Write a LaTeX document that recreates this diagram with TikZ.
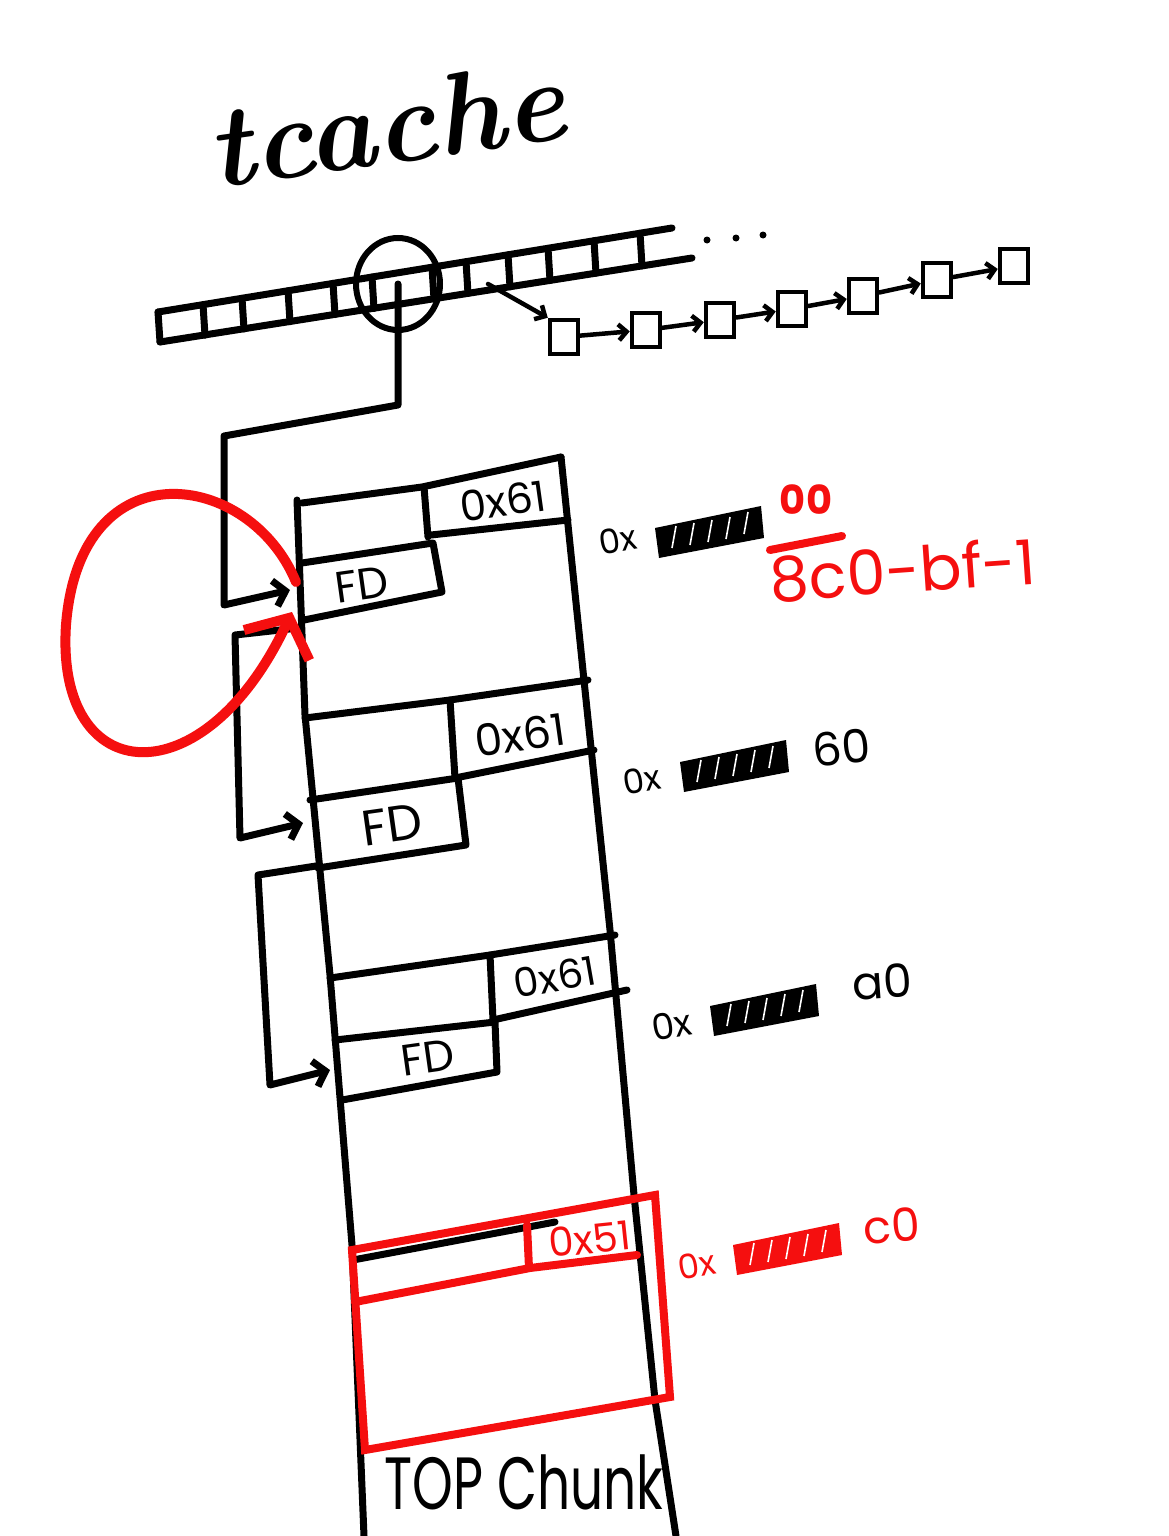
\documentclass[tikz,border=0pt]{standalone}
\usepackage{fontspec}
\usepackage{xcolor}
\usetikzlibrary{shapes.geometric, arrows.meta, positioning}
\newfontfamily\handfont{Poppins}
\definecolor{inkred}{RGB}{245,15,15}

\begin{document}
\begin{tikzpicture}[
  x=1pt, y=-1pt,
  ink/.style={line width=7pt, line cap=round, line join=round},
  redink/.style={ink, draw=inkred, line width=8pt},
  hand/.style={font=\handfont\fontsize{#1}{#1}\selectfont, inner sep=0pt},
  slotbox/.style={draw, line width=4.5pt, minimum width=28pt, minimum height=34pt, inner sep=0pt},
  link/.style={ink, -{Straight Barb[length=11pt,width=26pt]}},
  hop/.style={ink, line width=4.5pt, -{Straight Barb[length=8pt,width=16pt]}}
]
  \useasboundingbox[fill=white] (0,0) rectangle (1168,1536);

  % title
  \node[font=\bfseries\itshape\fontsize{116}{116}\selectfont, inner sep=0pt, rotate=8] (title) at (386,124) {tcache};

  % tcache bins
  \draw[ink] (158,312) -- (672,228);
  \draw[ink] (160,342) -- (692,258);
  \draw[ink] (158,312) -- (160,342);
  \foreach \x in {203,242,288,333,372,432,466,508,548,594,640}
    \draw[ink] (\x,{312-0.1634*(\x-158)}) -- (\x+2,{342-0.1585*(\x-160)});
  \node[draw, ellipse, line width=6pt, minimum width=84pt, minimum height=92pt] (slot) at (398,284) {};
  \foreach \x/\y in {707/240,736/238,763/235}
    \fill (\x,\y) circle (3.5pt);

  % other bin list
  \coordinate (tap) at (488,284);
  \node[slotbox] (s1) at (564,337) {};
  \node[slotbox] (s2) at (646,330) {};
  \node[slotbox] (s3) at (720,320) {};
  \node[slotbox] (s4) at (792,309) {};
  \node[slotbox] (s5) at (863,296) {};
  \node[slotbox] (s6) at (937,280) {};
  \node[slotbox] (s7) at (1014,266) {};
  \draw[hop] (tap) -- (s1.north west);
  \foreach \a/\b in {s1/s2,s2/s3,s3/s4,s4/s5,s5/s6,s6/s7}
    \draw[hop] (\a) -- (\b);

  % heap column
  \draw[ink] (297,500) -- (305,715) -- (330,975) -- (352,1245) -- (364,1536);
  \draw[ink] (561,457) -- (585,690) -- (610,930) -- (634,1195) -- (655,1400) -- (676,1536);

  % chunk 1
  \draw[ink] (302,503) -- (422,487) -- (561,457);
  \draw[ink] (424,487) -- (428,537);
  \draw[ink] (431,535) -- (568,520);
  \draw[ink] (302,563) -- (433,543) -- (442,592) -- (304,620);
  \node[hand=42, rotate=8] (size1) at (503,501) {0x61};
  \node[hand=44, rotate=8] (fd1) at (362,585) {FD};

  % chunk 2
  \draw[ink] (305,718) -- (450,700) -- (588,680);
  \draw[ink] (450,700) -- (455,778);
  \draw[ink] (455,778) -- (594,750);
  \draw[ink] (310,800) -- (458,778) -- (466,845) -- (318,868);
  \node[hand=44, rotate=8] (size2) at (520,735) {0x61};
  \node[hand=50, rotate=8] (fd2) at (392,825) {FD};

  % chunk 3
  \draw[ink] (330,978) -- (490,955) -- (615,935);
  \draw[ink] (490,955) -- (493,1020);
  \draw[ink] (493,1020) -- (627,990);
  \draw[ink] (335,1040) -- (495,1022) -- (497,1072) -- (342,1100);
  \node[hand=40, rotate=10] (size3) at (555,977) {0x61};
  \node[hand=44, rotate=8] (fd3) at (428,1058) {FD};

  % chunk 4 and top chunk
  \draw[ink] (353,1260) -- (555,1222);
  \draw[redink, line join=miter] (352,1250) -- (655,1195) -- (670,1397) -- (365,1450) -- cycle;
  \draw[redink] (527,1225) -- (529,1268);
  \draw[redink] (355,1302) -- (530,1268) -- (637,1255);
  \node[hand=40, rotate=6, text=inkred] (size4) at (590,1239) {0x51};
  \node[hand=74, xscale=0.7] (top) at (524,1482) {TOP Chunk};

  % fd links
  \coordinate (in1) at (290,590);
  \coordinate (out1) at (298,628);
  \coordinate (in2) at (303,823);
  \coordinate (out2) at (316,866);
  \coordinate (in3) at (330,1070);
  \draw[link] (slot.center) -- (398,405) -- (224,436) -- (224,605) -- (in1);
  \draw[link] (out1) -- (235,635) -- (240,838) -- (in2);
  \draw[link] (out2) -- (258,875) -- (270,1085) -- (in3);

  % double free loop
  \coordinate (loopend) at (292,612);
  \draw[redink, line width=10pt, -{Straight Barb[length=30pt,width=72pt]}]
    (296,582) .. controls (250,470) and (80,445) .. (66,625)
    .. controls (55,790) and (205,800) .. (loopend);

  % addresses
  \foreach \x/\y/\c in {655/528/black, 680/762/black, 710/1006/black, 733/1245/inkred}
    \fill[\c] (\x,\y) -- ++(106,-22) -- ++(3,32) -- ++(-105,20) -- cycle;
  \foreach \x/\y in {672/548,690/545,708/542,726/539,744/534, 697/782,715/779,733/776,751/772,769/768,
                     727/1026,745/1023,763/1020,781/1016,799/1012, 750/1265,768/1262,786/1259,804/1256,822/1252}
    \draw[white, line width=1.6pt] (\x,\y) -- ++(4,-22);
  \node[hand=34, rotate=10] (ptr1) at (618,540) {0x};
  \node[hand=34, rotate=10] (ptr2) at (642,780) {0x};
  \node[hand=36, rotate=10] (ptr3) at (672,1025) {0x};
  \node[hand=34, rotate=10, text=inkred] (ptr4) at (697,1265) {0x};
  \node[hand=40, text=inkred, font=\handfont\bfseries\fontsize{40}{40}\selectfont] (low1) at (806,500) {00};
  \draw[redink] (770,550) -- (842,536);
  \node[hand=62, text=inkred, rotate=4] (calc1) at (903,570) {8c0-bf-1};
  \node[hand=46, rotate=6] (low2) at (842,748) {60};
  \node[hand=46, rotate=4] (low3) at (882,982) {a0};
  \node[hand=46, rotate=4, text=inkred] (low4) at (892,1226) {c0};
\end{tikzpicture}
\end{document}
